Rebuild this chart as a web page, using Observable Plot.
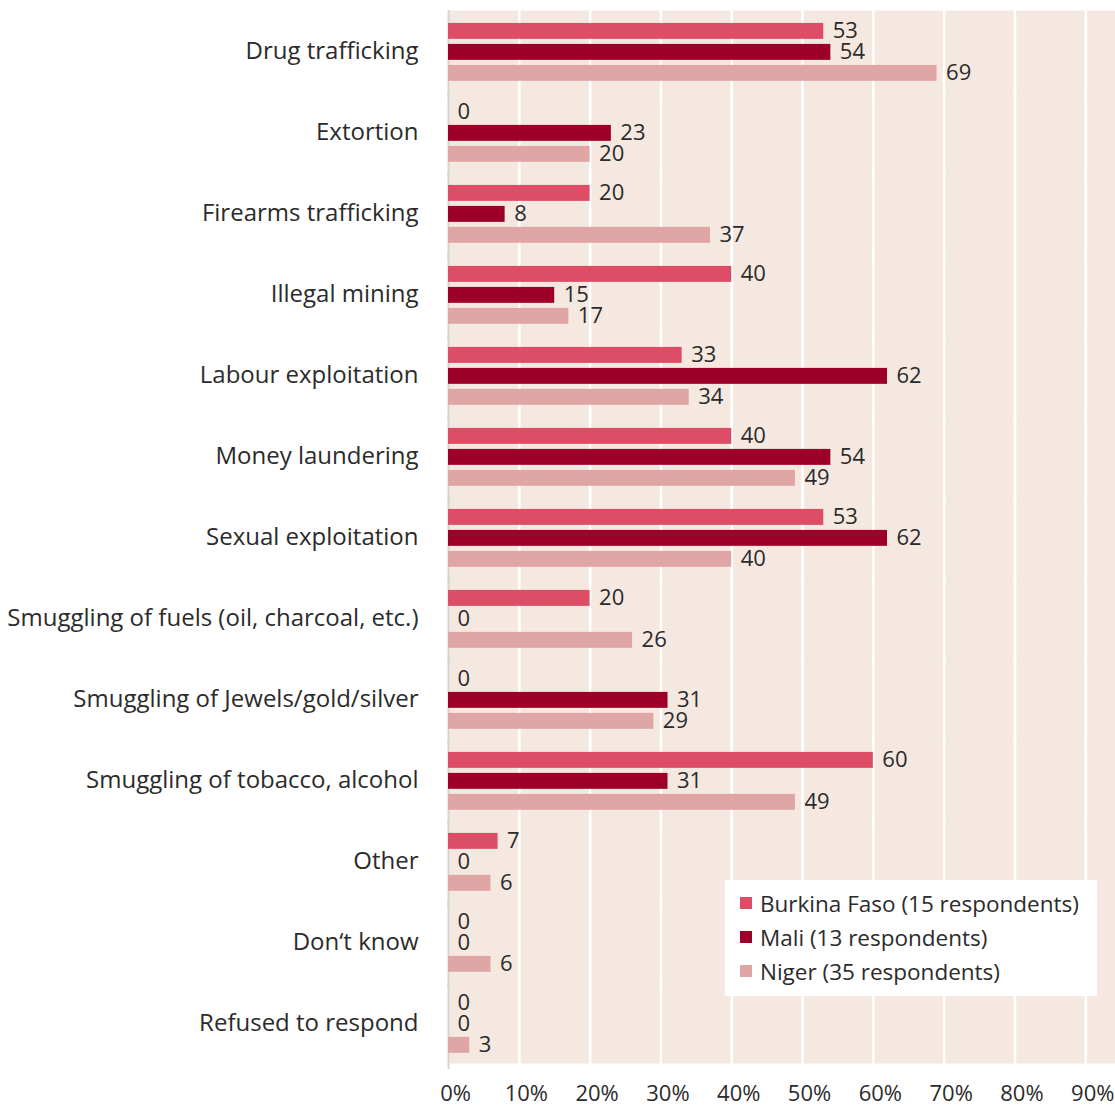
<!DOCTYPE html>
<html>
<head>
<meta charset="utf-8">
<script src="https://cdn.jsdelivr.net/npm/d3@7"></script>
<script src="https://cdn.jsdelivr.net/npm/@observablehq/plot@0.6"></script>
<style>
  body { margin: 0; background: #fff; font-family: "Open Sans", sans-serif; }
  #wrap { position: relative; width: 1115px; height: 1106px; }
  #legend { position: absolute; left: 725px; top: 880px; width: 372px; height: 116px; background: #fff; box-sizing: border-box; padding: 6px 0 0 15px; font-size: 22.5px; color: #2b2b2b; }
  #legend .row { height: 34px; display: flex; align-items: center; }
  #legend .sw { width: 12px; height: 12px; margin-right: 8px; flex: none; }
</style>
</head>
<body>
<div id="wrap"><div id="legend"></div></div>
<script>
const categories = [
  "Drug trafficking", "Extortion", "Firearms trafficking", "Illegal mining",
  "Labour exploitation", "Money laundering", "Sexual exploitation",
  "Smuggling of fuels (oil, charcoal, etc.)", "Smuggling of Jewels/gold/silver",
  "Smuggling of tobacco, alcohol", "Other", "Don‘t know", "Refused to respond"
];
const countries = ["Burkina Faso (15 respondents)", "Mali (13 respondents)", "Niger (35 respondents)"];
const burkina = [53, 0, 20, 40, 33, 40, 53, 20, 0, 60, 7, 0, 0];
const mali    = [54, 23, 8, 15, 62, 54, 62, 0, 31, 31, 0, 0, 0];
const niger   = [69, 20, 37, 17, 34, 49, 40, 26, 29, 49, 6, 6, 3];
const colors  = ["#DD4D65", "#9C0028", "#E0A6A6"];
const xTicks  = [0, 10, 20, 30, 40, 50, 60, 70, 80, 90];

const series = [burkina, mali, niger];
const data = [];
categories.forEach((c, i) => {
  countries.forEach((k, j) => data.push({category: c, country: k, value: series[j][i]}));
});

const chart = Plot.plot({
  width: 1115,
  height: 1106,
  marginLeft: 448,
  marginRight: 0,
  marginTop: 10,
  marginBottom: 38,
  style: {fontFamily: "Open Sans, sans-serif", color: "#2b2b2b", background: "transparent"},
  x: {domain: [0, 94.2]},
  y: {domain: countries, axis: null, paddingInner: 0.24, paddingOuter: 0.55, align: 0.56, round: false},
  fy: {domain: categories, paddingInner: 0, paddingOuter: 0.031, align: 0, label: null, round: false},
  color: {domain: countries, range: colors},
  marks: [
    Plot.frame({fill: "#F5E8E0", stroke: null, facet: "super"}),
    Plot.gridX({ticks: xTicks.filter(d => d > 0), stroke: "#ffffff", strokeOpacity: 1, strokeWidth: 2.5, insetBottom: -6}),
    Plot.ruleX([0], {stroke: "#d4d4d4", strokeWidth: 2, insetBottom: -6}),
    Plot.barX(data, {x: "value", y: "country", fy: "category", fill: "country"}),
    Plot.text(data, {x: "value", y: "country", fy: "category", text: d => String(d.value), textAnchor: "start", dx: 9, fontSize: 22, fill: "#2b2b2b"}),
    Plot.axisFy({anchor: "left", tickSize: 0, tickPadding: 30, fontSize: 24, label: null}),
    Plot.axisX({ticks: xTicks, tickFormat: d => d + "%", tickSize: 0, tickPadding: 22, fontSize: 22, dx: 7, label: null})
  ]
});

const wrap = document.getElementById("wrap");
wrap.insertBefore(chart, wrap.firstChild);

const legend = document.getElementById("legend");
countries.forEach((k, j) => {
  const row = document.createElement("div");
  row.className = "row";
  row.innerHTML = `<span class="sw" style="background:${colors[j]}"></span><span>${k}</span>`;
  legend.appendChild(row);
});
</script>
</body>
</html>
